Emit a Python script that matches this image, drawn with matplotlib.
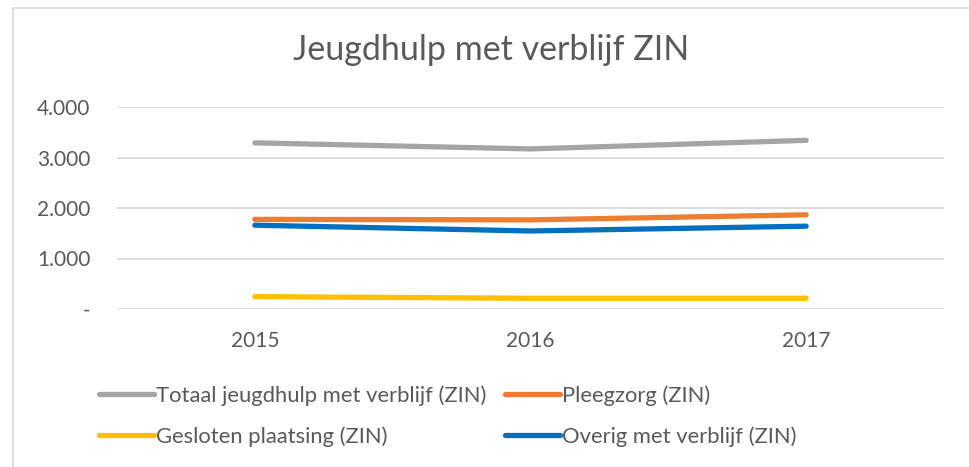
import matplotlib
matplotlib.use("Agg")
import matplotlib.pyplot as plt
from matplotlib.patches import Rectangle

years = ["2015", "2016", "2017"]
totaal = [3290, 3170, 3340]
pleegzorg = [1775, 1765, 1865]
gesloten = [245, 212, 212]
overig = [1660, 1545, 1640]
yticks = [0, 1000, 2000, 3000, 4000]
ytick_labels = ["-", "1.000", "2.000", "3.000", "4.000"]

names = ["Totaal jeugdhulp met verblijf (ZIN)", "Pleegzorg (ZIN)",
         "Gesloten plaatsing (ZIN)", "Overig met verblijf (ZIN)"]
colors = ["#A5A5A5", "#ED7D31", "#FFC000", "#0070C0"]
series = [totaal, pleegzorg, gesloten, overig]

plt.rcParams['font.family'] = ['Lato', 'DejaVu Sans']
txt = "#595959"

W, H = 969, 467
fig = plt.figure(figsize=(W / 100, H / 100), dpi=100)
fig.patches.append(Rectangle((13 / W, -0.1), 1.2, 1 - 8 / H + 0.1, transform=fig.transFigure,
                             fill=False, edgecolor="#D9D9D9", linewidth=1.2))

ax = fig.add_axes([117 / W, 1 - 309 / H, (944 - 117) / W, (309 - 107) / H])
x = list(range(len(years)))
handles = []
for s, c, n in zip(series, colors, names):
    h, = ax.plot(x, s, color=c, linewidth=3.8, solid_capstyle="round", label=n, zorder=3)
    handles.append(h)

ax.set_xlim(-0.5, 2.5)
ax.set_ylim(0, 4000)
ax.set_yticks(yticks)
ax.set_yticklabels(ytick_labels)
ax.set_xticks(x)
ax.set_xticklabels(years)
ax.grid(axis="y", color="#D9D9D9", linewidth=1.3)
ax.set_axisbelow(True)
for sp in ax.spines.values():
    sp.set_visible(False)
ax.tick_params(axis="both", length=0, labelsize=15, colors=txt)
ax.tick_params(axis="y", pad=19)
ax.tick_params(axis="x", pad=16)

fig.text(491 / W, 1 - 50 / H, "Jeugdhulp met verblijf ZIN", ha="center", va="center",
         fontsize=24.5, color=txt)

order = [0, 2, 1, 3]
leg = fig.legend([handles[i] for i in order], [names[i] for i in order], ncol=2,
                 loc="upper left", bbox_to_anchor=(99 / W, 1 - 385 / H),
                 frameon=False, fontsize=15.8, handlelength=2.5, handletextpad=0.1,
                 columnspacing=0.85, labelspacing=0.95, borderpad=0, borderaxespad=0)
for t in leg.get_texts():
    t.set_color(txt)

fig.savefig("out.png", dpi=100)
